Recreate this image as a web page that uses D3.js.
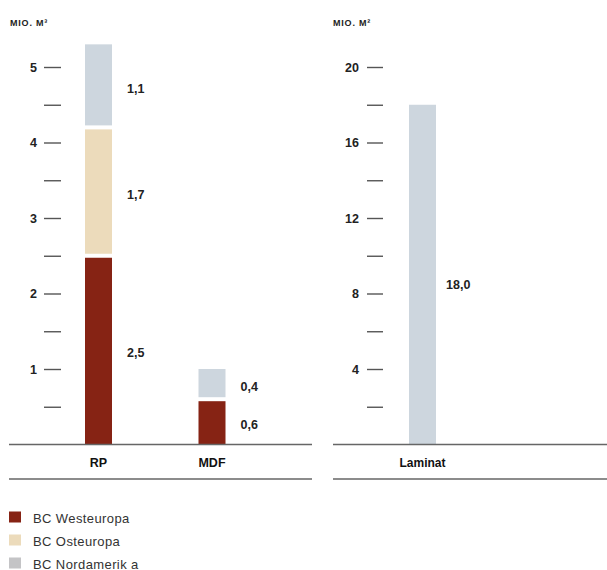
<!DOCTYPE html>
<html><head><meta charset="utf-8">
<script src="https://cdn.jsdelivr.net/npm/d3@7"></script>
<style>body{margin:0;background:#fff}svg{display:block}text{font-family:"Liberation Sans",Arial,sans-serif}</style>
</head><body><svg id="c" width="607" height="570"></svg>
<script>
// ---- data ----
const leftCategories = ["RP", "MDF"];
const rightCategories = ["Laminat"];
const seriesNames = ["BC Westeuropa", "BC Osteuropa", "BC Nordamerik a"];
const westeuropa = [2.5, 0.6];
const osteuropa = [1.7, 0];
const nordamerika = [1.1, 0.4];
const laminatValues = [18.0];
const leftUnit = "MIO. M³";
const rightUnit = "MIO. M²";
const leftTicks = [0.5,1,1.5,2,2.5,3,3.5,4,4.5,5];
const leftTickLabels = {1:"1",2:"2",3:"3",4:"4",5:"5"};
const rightTicks = [2,4,6,8,10,12,14,16,18,20];
const rightTickLabels = {4:"4",8:"8",12:"12",16:"16",20:"20"};

// ---- styles ----
const colors = {"BC Westeuropa":"#862314","BC Osteuropa":"#ecdbbb","BC Nordamerik a":"#cdd6de"};
const legendColors = {"BC Westeuropa":"#862314","BC Osteuropa":"#ecdbbb","BC Nordamerik a":"#c4c4c6"};
const fmt = v => v.toFixed(1).replace(".", ",");

const svg = d3.select("#c");
const baseY = 444.5, topY = 67;
const barW = 27, gap = 2;

const yL = d3.scaleLinear().domain([0,5]).range([baseY, topY]);
const yR = d3.scaleLinear().domain([0,20]).range([baseY, topY]);
const xL = d3.scalePoint().domain(leftCategories).range([98.5, 212]);
const xR = d3.scalePoint().domain(rightCategories).range([422.5, 422.5]);

function styleAxis(g, labels){
  g.select(".domain").remove();
  g.selectAll(".tick line").attr("stroke","#555").attr("stroke-width",1.4);
  g.selectAll(".tick text").attr("fill","#222").attr("font-size",12.5).attr("font-weight","bold")
    .attr("font-family","'Liberation Sans',Arial,sans-serif")
    .text(d => labels[d] || "");
}
const axL = svg.append("g").attr("transform","translate(61,0)")
  .call(d3.axisLeft(yL).tickValues(leftTicks).tickSize(17).tickPadding(7));
styleAxis(axL, leftTickLabels);
const axR = svg.append("g").attr("transform","translate(383,0)")
  .call(d3.axisLeft(yR).tickValues(rightTicks).tickSize(16).tickPadding(8));
styleAxis(axR, rightTickLabels);

// units
svg.append("text").attr("x",10).attr("y",26).attr("font-size",9).attr("font-weight","bold")
  .attr("letter-spacing",0.8).attr("fill","#222").text(leftUnit);
svg.append("text").attr("x",333).attr("y",26).attr("font-size",9).attr("font-weight","bold")
  .attr("letter-spacing",0.8).attr("fill","#222").text(rightUnit);

// stacked left
const rows = leftCategories.map((c,i) => ({cat:c, "BC Westeuropa":westeuropa[i], "BC Osteuropa":osteuropa[i], "BC Nordamerik a":nordamerika[i]}));
const stacked = d3.stack().keys(seriesNames)(rows);
stacked.forEach(layer => {
  layer.forEach(d => {
    const v = d[1]-d[0];
    if (v <= 0) return;
    const total = d3.sum(seriesNames, k => d.data[k]);
    const y1 = yL(d[1]) + (d[1] < total - 1e-9 ? gap : 0);
    const y0 = yL(d[0]) - (d[0] > 0 ? gap : 0);
    svg.append("rect").attr("x", xL(d.data.cat)-barW/2).attr("y", y1)
      .attr("width", barW).attr("height", y0-y1).attr("fill", colors[layer.key]);
    svg.append("text").attr("x", xL(d.data.cat)+barW/2+15).attr("y", (yL(d[0])+yL(d[1]))/2 + 7)
      .attr("font-size",12.5).attr("font-weight","bold").attr("fill","#222").text(fmt(v));
  });
});

// right bar
rightCategories.forEach((c,i) => {
  const v = laminatValues[i];
  svg.append("rect").attr("x", xR(c)-barW/2).attr("y", yR(v)).attr("width", barW)
    .attr("height", yR(0)-yR(v)).attr("fill", colors["BC Nordamerik a"]);
  svg.append("text").attr("x", xR(c)+barW/2+10).attr("y", (yR(0)+yR(v))/2 + 14)
    .attr("font-size",12.5).attr("font-weight","bold").attr("fill","#222").text(fmt(v));
});

// baselines and category rows
[[9,312],[333,607]].forEach(([a,b]) => {
  svg.append("line").attr("x1",a).attr("x2",b).attr("y1",baseY).attr("y2",baseY).attr("stroke","#666").attr("stroke-width",1.5);
  svg.append("line").attr("x1",a).attr("x2",b).attr("y1",479).attr("y2",479).attr("stroke","#666").attr("stroke-width",1.5);
});
leftCategories.forEach(c => svg.append("text").attr("x", xL(c)).attr("y",467).attr("text-anchor","middle")
  .attr("font-size",12.5).attr("font-weight","bold").attr("fill","#111").text(c));
rightCategories.forEach(c => svg.append("text").attr("x", xR(c)).attr("y",467).attr("text-anchor","middle")
  .attr("font-size",12).attr("font-weight","bold").attr("fill","#111").text(c));

// legend
seriesNames.forEach((s,i) => {
  const g = svg.append("g").attr("transform", `translate(9,${511.5+i*23})`);
  g.append("rect").attr("width",12).attr("height",11).attr("fill",legendColors[s]);
  g.append("text").attr("x",24).attr("y",11).attr("font-size",13).attr("letter-spacing",0.4)
    .attr("fill","#333").text(s);
});
</script></body></html>
